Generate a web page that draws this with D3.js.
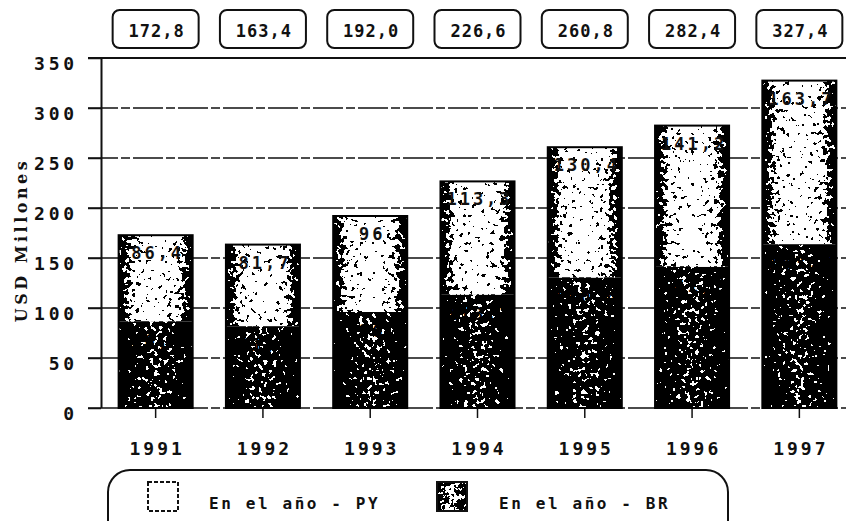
<!DOCTYPE html>
<html>
<head>
<meta charset="utf-8">
<script src="https://cdn.jsdelivr.net/npm/d3@7"></script>
<style>
  body { margin: 0; background: #fff; }
  svg { display: block; }
  .mono { font-family: "DejaVu Sans Mono", "Liberation Mono", monospace; font-weight: bold; fill: #111; }
</style>
</head>
<body>
<script>
// data
var years = ["1991", "1992", "1993", "1994", "1995", "1996", "1997"];
var brValues = [86.4, 81.7, 96, 113.3, 130.4, 141.2, 163.7];   // bottom, dark
var pyValues = [86.4, 81.7, 96, 113.3, 130.4, 141.2, 163.7];   // top, light
var yTicks = [0, 50, 100, 150, 200, 250, 300, 350];
var seriesNames = ["En el año - PY", "En el año - BR"];

var svgWidth = 846, svgHeight = 521;

var svg = d3.select("body").append("svg")
            .attr("width", svgWidth)
            .attr("height", svgHeight);

var defs = svg.append("defs");

// horizontal shading for the two segment kinds
function addGradient(id, stops) {
  var g = defs.append("linearGradient").attr("id", id)
              .attr("x1", "0").attr("x2", "1").attr("y1", "0").attr("y2", "0");
  stops.forEach(function(s) {
    g.append("stop").attr("offset", s[0]).attr("stop-color", s[1]);
  });
}
addGradient("lightGrad", [[0, "#000"], [0.05, "#3a3a3a"], [0.2, "#b8b8b8"], [0.5, "#dedede"], [0.8, "#b8b8b8"], [0.95, "#3a3a3a"], [1, "#000"]]);
addGradient("darkGrad", [[0, "#000"], [0.1, "#1c1c1c"], [0.5, "#5a5a5a"], [0.9, "#1c1c1c"], [1, "#000"]]);
addGradient("swatchGrad", [[0, "#333"], [0.5, "#9a9a9a"], [1, "#333"]]);

// dithered, scanned look
var filter = defs.append("filter").attr("id", "dither")
                 .attr("x", 0).attr("y", 0).attr("width", 1).attr("height", 1)
                 .attr("color-interpolation-filters", "sRGB");
filter.append("feTurbulence").attr("type", "fractalNoise").attr("baseFrequency", 0.22)
      .attr("numOctaves", 2).attr("seed", 7).attr("result", "n");
filter.append("feColorMatrix").attr("in", "n").attr("type", "matrix")
      .attr("values", "1 0 0 0 0  1 0 0 0 0  1 0 0 0 0  0 0 0 0 1").attr("result", "g");
filter.append("feComposite").attr("in", "SourceGraphic").attr("in2", "g")
      .attr("operator", "arithmetic").attr("k1", 0).attr("k2", 1).attr("k3", 1.7).attr("k4", -0.85)
      .attr("result", "m");
var ct = filter.append("feComponentTransfer").attr("in", "m").attr("result", "t");
["feFuncR", "feFuncG", "feFuncB"].forEach(function(f) {
  ct.append(f).attr("type", "discrete").attr("tableValues", "0 1");
});
filter.append("feComposite").attr("in", "t").attr("in2", "SourceAlpha").attr("operator", "in");

// scales
var x = d3.scaleBand()
          .domain(years)
          .range([102, 853])
          .paddingInner(0.31)
          .paddingOuter(0.155);

var y = d3.scaleLinear()
          .domain([0, 350])
          .range([408, 58]);

var fmt = function(v) { return String(v).replace(".", ","); };
var fmtTotal = function(v) { return v.toFixed(1).replace(".", ","); };

var data = years.map(function(yr, i) {
  return { year: yr, br: brValues[i], py: pyValues[i], total: brValues[i] + pyValues[i] };
});

// grid lines
svg.append("g").selectAll("line")
   .data(yTicks)
   .enter().append("line")
   .attr("x1", 88).attr("x2", 846)
   .attr("y1", d => y(d)).attr("y2", d => y(d))
   .attr("stroke", "#111")
   .attr("stroke-width", d => d === 350 ? 2 : 1.5)
   .attr("stroke-dasharray", d => d === 350 ? null : "30,3,9,3");

// left axis (labels only, ticks drawn by grid)
var yAxis = svg.append("g")
               .attr("transform", "translate(101,0)")
               .call(d3.axisLeft(y).tickValues(yTicks).tickSize(13).tickPadding(10));
yAxis.select(".domain").remove();
yAxis.selectAll("line").attr("stroke", "#111").attr("stroke-width", 1.5);
yAxis.selectAll("text")
     .attr("class", "mono")
     .attr("dy", "0.66em")
     .style("font-size", "18px")
     .style("letter-spacing", "3.8px");

svg.append("line")
   .attr("x1", 101.5).attr("x2", 101.5)
   .attr("y1", y(350)).attr("y2", y(0))
   .attr("stroke", "#111").attr("stroke-width", 2);

// bottom axis
var xAxis = svg.append("g")
               .attr("transform", `translate(0,${y(0)})`)
               .call(d3.axisBottom(x).tickSize(10));
xAxis.select(".domain").remove();
xAxis.selectAll("line").attr("stroke", "#111").attr("stroke-width", 1.5);
xAxis.selectAll("text")
     .attr("class", "mono")
     .attr("y", 47).attr("dy", 0).attr("dx", "1.5px")
     .style("font-size", "18px")
     .style("letter-spacing", "3px");

// bars
var bars = svg.append("g").selectAll("g.bar")
              .data(data)
              .enter().append("g")
              .classed("bar", true);

bars.append("rect")
    .attr("x", d => x(d.year))
    .attr("width", x.bandwidth())
    .attr("y", d => y(d.br))
    .attr("height", d => y(0) - y(d.br))
    .attr("fill", "url(#darkGrad)")
    .attr("filter", "url(#dither)");

bars.append("rect")
    .attr("x", d => x(d.year))
    .attr("width", x.bandwidth())
    .attr("y", d => y(d.total))
    .attr("height", d => y(d.br) - y(d.total))
    .attr("fill", "url(#lightGrad)")
    .attr("filter", "url(#dither)");

bars.append("rect")
    .attr("x", d => x(d.year))
    .attr("width", x.bandwidth())
    .attr("y", d => y(d.total))
    .attr("height", d => y(0) - y(d.total))
    .attr("fill", "none")
    .attr("stroke", "#000")
    .attr("stroke-width", 2);

// segment labels
bars.append("text")
    .attr("class", "mono")
    .attr("x", d => x(d.year) + x.bandwidth() / 2 + 2)
    .attr("y", d => y(d.total) + 24)
    .attr("text-anchor", "middle")
    .style("font-size", "17px")
    .style("letter-spacing", "3px")
    .text(d => fmt(d.py));

bars.append("text")
    .attr("class", "mono")
    .attr("x", d => x(d.year) + x.bandwidth() / 2 + 2)
    .attr("y", d => y(d.br) + 25)
    .attr("text-anchor", "middle")
    .style("font-size", "17px")
    .style("letter-spacing", "3px")
    .style("fill", "#000")
    .text(d => fmt(d.br));

// totals in rounded boxes above the plot
var totals = svg.append("g").selectAll("g.total")
                .data(data)
                .enter().append("g")
                .classed("total", true);

totals.append("rect")
      .attr("x", d => x(d.year) + x.bandwidth() / 2 - 43)
      .attr("y", 10)
      .attr("width", 86)
      .attr("height", 38)
      .attr("rx", 7)
      .attr("fill", "#fff")
      .attr("stroke", "#111")
      .attr("stroke-width", 2);

totals.append("text")
      .attr("class", "mono")
      .attr("x", d => x(d.year) + x.bandwidth() / 2 + 1)
      .attr("y", 37)
      .attr("text-anchor", "middle")
      .style("font-size", "17px")
      .style("letter-spacing", "1px")
      .text(d => fmtTotal(d.total));

// y axis title
svg.append("text")
   .attr("transform", "translate(27,240) rotate(-90)")
   .attr("text-anchor", "middle")
   .style("font-family", "'DejaVu Serif', serif")
   .style("font-weight", "bold")
   .style("font-size", "16px")
   .style("letter-spacing", "3.5px")
   .style("fill", "#111")
   .text("USD Millones");

// legend
var legend = svg.append("g");
legend.append("rect")
      .attr("x", 108).attr("y", 470)
      .attr("width", 620).attr("height", 80)
      .attr("rx", 22)
      .attr("fill", "none")
      .attr("stroke", "#111")
      .attr("stroke-width", 2);

var legendX = [148, 437];
var legendTextX = [209, 499];

legend.append("rect")
      .attr("x", legendX[0]).attr("y", 482)
      .attr("width", 30).attr("height", 29)
      .attr("fill", "#fff")
      .attr("stroke", "#111")
      .attr("stroke-width", 2)
      .attr("stroke-dasharray", "4,2");

legend.append("rect")
      .attr("x", legendX[1]).attr("y", 482)
      .attr("width", 30).attr("height", 29)
      .attr("fill", "url(#swatchGrad)")
      .attr("filter", "url(#dither)");
legend.append("rect")
      .attr("x", legendX[1]).attr("y", 482)
      .attr("width", 30).attr("height", 29)
      .attr("fill", "none")
      .attr("stroke", "#111")
      .attr("stroke-width", 2);

legend.selectAll("text.leg")
      .data(seriesNames)
      .enter().append("text")
      .attr("class", "mono leg")
      .attr("x", (d, i) => legendTextX[i])
      .attr("y", 509)
      .style("font-size", "16px")
      .style("letter-spacing", "2.6px")
      .text(d => d);
</script>
</body>
</html>
